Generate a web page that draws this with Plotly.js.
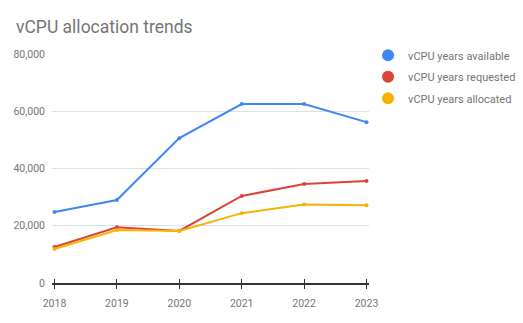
<!DOCTYPE html>
<html>
<head>
<meta charset="utf-8">
<script src="https://cdn.plot.ly/plotly-3.0.1.min.js"></script>
<style>html,body{margin:0;padding:0;background:#fff;}#chart{width:523px;height:323px;}</style>
</head>
<body>
<div id="chart"></div>
<script>
const years = [2018, 2019, 2020, 2021, 2022, 2023];
const available = [24800, 29000, 50600, 62500, 62500, 56200];
const requested = [12600, 19500, 18200, 30400, 34600, 35600];
const allocated = [11900, 18500, 18200, 24400, 27400, 27200];
const seriesNames = ['vCPU years available', 'vCPU years requested', 'vCPU years allocated'];
const seriesColors = ['#4285F4', '#DB4437', '#F4B400'];
const yTicks = [0, 20000, 40000, 60000, 80000];
const yTickText = ['0', '20,000', '40,000', '60,000', '80,000'];

const series = [available, requested, allocated];
const traces = [];
series.forEach((vals, i) => {
  traces.push({
    x: years, y: vals, type: 'scatter', mode: 'lines+markers',
    line: {color: seriesColors[i], width: 2},
    marker: {color: seriesColors[i], size: 4},
    showlegend: false, hoverinfo: 'skip'
  });
});
series.forEach((vals, i) => {
  traces.push({
    x: [null], y: [null], type: 'scatter', mode: 'markers',
    name: seriesNames[i], legendgroup: 'g' + i,
    marker: {color: seriesColors[i], size: 12, symbol: 'circle'},
    showlegend: true
  });
});
traces.push({x: years, y: years.map(() => null), xaxis: 'x2', yaxis: 'y', type: 'scatter', mode: 'markers', showlegend: false, hoverinfo: 'skip'});

const font = {family: 'Roboto, Arial, sans-serif', color: '#757575'};
const layout = {
  width: 523, height: 323,
  margin: {l: 52, r: 154, t: 54, b: 40, autoexpand: false},
  paper_bgcolor: '#fff', plot_bgcolor: '#fff',
  font: Object.assign({size: 10.5}, font),
  title: {text: 'vCPU allocation trends', x: 16 / 523, xref: 'container', xanchor: 'left',
          y: 1 - 27 / 323, yref: 'container', yanchor: 'middle',
          font: {family: 'Roboto, Arial, sans-serif', size: 17.5, color: '#757575'}},
  xaxis: {
    range: [2017.96, 2023.04], tickvals: years, ticktext: years.map(String),
    showgrid: false, zeroline: false, showline: true, linecolor: '#333', linewidth: 1.5,
    ticks: 'outside', ticklen: 4, tickcolor: '#333', tickwidth: 1,
    tickfont: {size: 10.5, color: '#757575'}, ticklabelstandoff: 6, fixedrange: true
  },
  xaxis2: {
    matches: 'x', overlaying: 'x', anchor: 'y', side: 'bottom',
    showgrid: false, zeroline: false, showline: false, showticklabels: false,
    ticks: 'inside', ticklen: 4, tickcolor: '#333', tickwidth: 1, tickvals: years
  },
  yaxis: {
    range: [0, 80000], tickvals: yTicks, ticktext: yTickText,
    showgrid: true, gridcolor: '#e0e0e0', gridwidth: 1, zeroline: false,
    showline: false, ticks: '', ticklabelstandoff: 6,
    tickfont: {size: 10.5, color: '#757575'}, fixedrange: true
  },
  showlegend: true,
  legend: {
    x: 0.997, xanchor: 'left', y: 1.058, yanchor: 'top',
    font: {family: 'Roboto, Arial, sans-serif', size: 11, color: '#757575'},
    itemsizing: 'constant', tracegroupgap: 2.5, bgcolor: 'rgba(0,0,0,0)'
  }
};
Plotly.newPlot('chart', traces, layout, {displayModeBar: false, staticPlot: true});
</script>
</body>
</html>
